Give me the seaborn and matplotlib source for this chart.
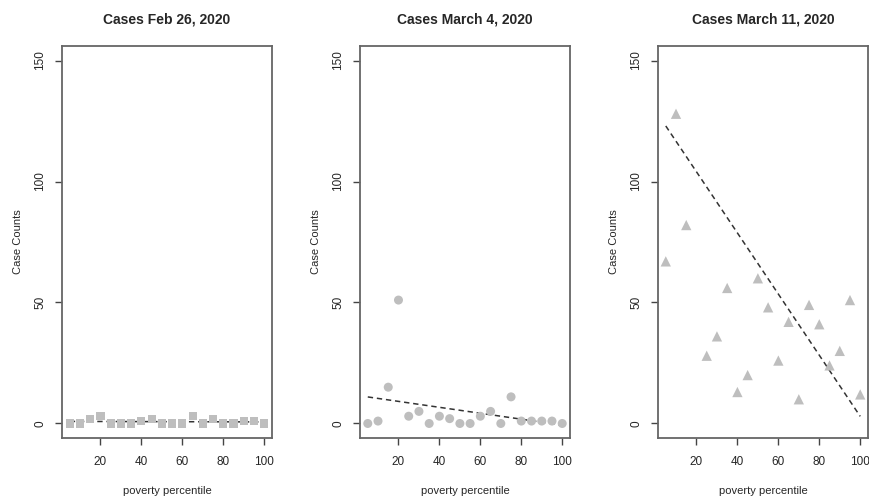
import numpy as np
import pandas as pd
import matplotlib.pyplot as plt
import seaborn as sns

# poverty percentile (x) shared by all three panels
percentile = [5, 10, 15, 20, 25, 30, 35, 40, 45, 50,
              55, 60, 65, 70, 75, 80, 85, 90, 95, 100]

cases_feb26 = [0, 0, 2, 3, 0, 0, 0, 1, 2, 0,
               0, 0, 3, 0, 2, 0, 0, 1, 1, 0]
cases_mar04 = [0, 1, 15, 51, 3, 5, 0, 3, 2, 0,
               0, 3, 5, 0, 11, 1, 1, 1, 1, 0]
# x=20 is far above the plotted range (clipped, but still pulls the fit)
cases_mar11 = [67, 128, 82, 436, 28, 36, 56, 13, 20, 60,
               48, 26, 42, 10, 49, 41, 24, 30, 51, 12]

titles = ["Cases Feb 26, 2020", "Cases March 4, 2020", "Cases March 11, 2020"]
markers = ["s", "o", "^"]
sizes = [34, 42, 55]
series = [cases_feb26, cases_mar04, cases_mar11]

sns.set_style("ticks")
plt.rcParams['font.family'] = ['Liberation Sans', 'DejaVu Sans']

fig = plt.figure(figsize=(8.69, 4.97), dpi=100)
W, H = 869, 497
lefts = [62, 360, 658]
aw = 210
top, bottom = 46, 438

for i, (vals, title, mk, sz) in enumerate(zip(series, titles, markers, sizes)):
    ax = fig.add_axes([lefts[i] / W, 1 - bottom / H, aw / W, (bottom - top) / H])
    df = pd.DataFrame({"pct": percentile, "cases": vals})
    sns.regplot(data=df, x="pct", y="cases", scatter=False, ci=None, ax=ax,
                line_kws={"color": "#333333", "linestyle": (0, (3.5, 2.5)), "linewidth": 1.1, "zorder": 2})
    sns.scatterplot(data=df, x="pct", y="cases", marker=mk, s=sz,
                    color="#bebebe", edgecolor="none", ax=ax, zorder=3)
    ax.set_xlim(1.2, 103.8)
    ax.set_ylim(-6, 156)
    ax.set_xticks([20, 40, 60, 80, 100])
    ax.set_yticks([0, 50, 100, 150])
    ax.set_yticklabels(["0", "50", "100", "150"], rotation=90, va="center")
    ax.tick_params(axis="both", labelsize=8.5, length=5, width=1, color="#444444")
    ax.tick_params(axis="x", pad=8)
    ax.tick_params(axis="y", pad=6.5)
    for sp in ax.spines.values():
        sp.set_visible(True)
        sp.set_color("#666666")
        sp.set_linewidth(1.3)
    ax.set_title(title, fontsize=10, fontweight="bold", pad=16)
    ax.set_xlabel("poverty percentile", fontsize=8, labelpad=13)
    ax.set_ylabel("Case Counts", fontsize=8, labelpad=8)

fig.savefig("out.png", dpi=100)
